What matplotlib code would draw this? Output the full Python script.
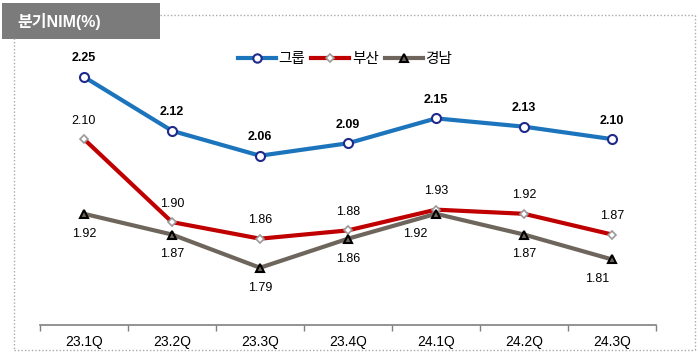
import matplotlib.pyplot as plt
from matplotlib.patches import Rectangle
from matplotlib.lines import Line2D
import numpy as np

plt.rcParams['font.family'] = ['Liberation Sans', 'Noto Sans CJK KR', 'DejaVu Sans']

# ----------------------- Data ---------------------------------------
quarters = ["23.1Q", "23.2Q", "23.3Q", "23.4Q", "24.1Q", "24.2Q", "24.3Q"]
group_nim = [2.25, 2.12, 2.06, 2.09, 2.15, 2.13, 2.10]
busan_nim = [2.10, 1.90, 1.86, 1.88, 1.93, 1.92, 1.87]
gyeongnam_nim = [1.92, 1.87, 1.79, 1.86, 1.92, 1.87, 1.81]
series_names = ["그룹", "부산", "경남"]

BLUE = "#1c75bc"
RED = "#c00000"
BROWN = "#6e665c"

fig = plt.figure(figsize=(7.0, 3.56), dpi=100)
ax = fig.add_axes([40 / 700, 31 / 356, 616 / 700, 300 / 356])

x = np.arange(len(quarters))
ax.plot(x, group_nim, color=BLUE, lw=3, marker='o', ms=6.5, mfc='white',
        mec='#1f2a8a', mew=1.5, zorder=3)
ax.plot(x, busan_nim, color=RED, lw=3, marker='D', ms=4.5, mfc='white',
        mec='#999999', mew=1.2, zorder=3)
ax.plot(x, gyeongnam_nim, color=BROWN, lw=3, marker='^', ms=6, mfc=BROWN,
        mec='black', mew=1.5, zorder=3)

# data labels
for i, v in enumerate(group_nim):
    ax.annotate(f"{v:.2f}", (i, v), xytext=(0, 9), textcoords='offset points',
                ha='center', va='bottom', fontsize=9, fontweight='bold')
for i, v in enumerate(busan_nim):
    ax.annotate(f"{v:.2f}", (i, v), xytext=(0, 9), textcoords='offset points',
                ha='center', va='bottom', fontsize=9)
gn_offsets = [(0, -10), (0, -10), (0, -10), (0, -10), (-15, -10), (0, -10), (-11, -10)]
for i, v in enumerate(gyeongnam_nim):
    ax.annotate(f"{v:.2f}", (i, v), xytext=gn_offsets[i], textcoords='offset points',
                ha='center', va='top', fontsize=9)

ax.set_xlim(-0.5, len(quarters) - 0.5)
ax.set_ylim(1.652, 2.375)
ax.set_yticks([])
ax.set_xticks(x)
ax.set_xticklabels(quarters, fontsize=10)
ax.tick_params(axis='x', length=0, pad=7)
ax.set_xticks(np.arange(-0.5, len(quarters)), minor=True)
ax.tick_params(axis='x', which='minor', length=4, color='#808080', width=1)
for s in ['top', 'left', 'right']:
    ax.spines[s].set_visible(False)
ax.spines['bottom'].set_color('#808080')
ax.spines['bottom'].set_linewidth(1.2)

# legend
handles = [
    Line2D([], [], color=BLUE, lw=3, marker='o', ms=6, mfc='white', mec='#1f2a8a', mew=1.5),
    Line2D([], [], color=RED, lw=3, marker='D', ms=4.5, mfc='white', mec='#999999', mew=1.2),
    Line2D([], [], color=BROWN, lw=3, marker='^', ms=6, mfc=BROWN, mec='black', mew=1.5),
]
fig.legend(handles, series_names, loc='center', bbox_to_anchor=(345 / 700, 1 - 59 / 356),
           ncol=3, frameon=False, fontsize=10.5, handlelength=2.6, handletextpad=0.2,
           columnspacing=0.4)

# dotted frame and title box
dot = dict(transform=fig.transFigure, color='#aaaaaa', lw=1, ls=(0, (1, 1.5)))
fig.add_artist(Line2D([160 / 700, 695 / 700], [1 - 15 / 356, 1 - 15 / 356], **dot))
fig.add_artist(Line2D([695 / 700, 695 / 700], [1 - 15 / 356, 1 - 350 / 356], **dot))
fig.add_artist(Line2D([14 / 700, 695 / 700], [1 - 350 / 356, 1 - 350 / 356], **dot))
fig.add_artist(Line2D([14 / 700, 14 / 700], [1 - 38 / 356, 1 - 350 / 356], **dot))
fig.add_artist(Rectangle((2 / 700, 1 - 39 / 356), 158 / 700, 36 / 356,
                         transform=fig.transFigure, facecolor='#7b7b7b', edgecolor='none'))
fig.text(17 / 700, 1 - 21 / 356, "분기NIM(%)", color='white', fontsize=11.5,
         fontweight='bold', va='center', ha='left')

fig.savefig('out.png', dpi=100)
